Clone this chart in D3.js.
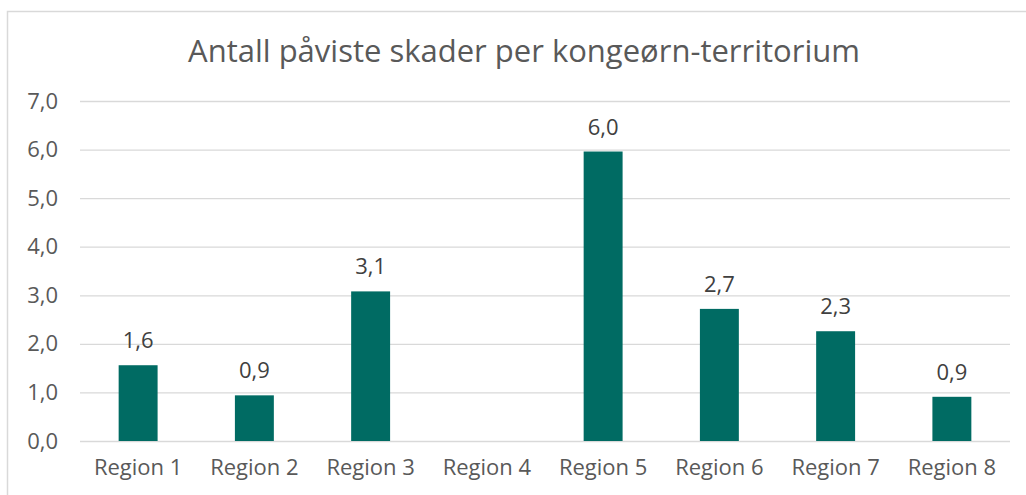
<!DOCTYPE html>
<meta charset="utf-8">
<script src="https://d3js.org/d3.v7.min.js"></script>
<style>
  body { margin: 0; background: #fff; }
  text { font-family: "Open Sans", sans-serif; }
</style>
<div id="chart"></div>
<script>

// data
var regions = ["Region 1", "Region 2", "Region 3", "Region 4", "Region 5", "Region 6", "Region 7", "Region 8"];
var skader = [1.56, 0.94, 3.08, null, 5.96, 2.72, 2.26, 0.91];
var yTicks = [0, 1, 2, 3, 4, 5, 6, 7];
var title = "Antall påviste skader per kongeørn-territorium";

var W = 1026, H = 495;
var margin = {top: 101, right: 16, bottom: 54, left: 80},
    width = W - margin.left - margin.right,
    height = H - margin.top - margin.bottom;

var svg = d3.select("#chart").append("svg")
    .attr("width", W)
    .attr("height", H);

// chart frame (cut off at right and bottom)
svg.append("rect")
    .attr("x", 7.5).attr("y", 11.5)
    .attr("width", W + 20).attr("height", H + 20)
    .attr("fill", "none")
    .attr("stroke", "#d9d9d9")
    .attr("stroke-width", 1.5);

svg.append("text")
    .attr("x", 524)
    .attr("y", 62)
    .attr("text-anchor", "middle")
    .style("font-size", "31px")
    .style("fill", "#595959")
    .text(title);

var g = svg.append("g")
    .attr("transform", "translate(" + margin.left + "," + margin.top + ")");

var x = d3.scaleBand()
    .domain(regions)
    .range([0, width])
    .paddingInner(0.665)
    .paddingOuter(0.3325);

var y = d3.scaleLinear()
    .domain([0, 7])
    .range([height, 0]);

var fmt = function(v) { return d3.format(".1f")(v).replace(".", ","); };

// gridlines + y labels
var yAxis = g.append("g")
    .call(d3.axisLeft(y).tickValues(yTicks).tickSize(-width).tickFormat(fmt).tickPadding(22));
yAxis.select(".domain").remove();
yAxis.selectAll(".tick line").attr("stroke", "#d9d9d9").attr("stroke-width", 1.3);
yAxis.selectAll(".tick text")
    .style("font-size", "22px")
    .style("fill", "#595959")
    .style("font-family", "Open Sans, sans-serif");

// x labels
var xAxis = g.append("g")
    .attr("transform", "translate(0," + height + ")")
    .call(d3.axisBottom(x).tickSize(0).tickPadding(18));
xAxis.select(".domain").remove();
xAxis.selectAll(".tick text")
    .style("font-size", "22px")
    .style("fill", "#595959")
    .style("font-family", "Open Sans, sans-serif");

var data = regions.map(function(r, i) { return {region: r, value: skader[i]}; });

g.selectAll("rect.bar")
  .data(data.filter(function(d) { return d.value != null; }))
  .enter().append("rect")
    .attr("class", "bar")
    .attr("x", function(d) { return x(d.region); })
    .attr("y", function(d) { return y(d.value); })
    .attr("width", x.bandwidth())
    .attr("height", function(d) { return height - y(d.value); })
    .attr("fill", "#006b63");

g.selectAll("text.lbl")
  .data(data.filter(function(d) { return d.value != null; }))
  .enter().append("text")
    .attr("class", "lbl")
    .attr("x", function(d) { return x(d.region) + x.bandwidth() / 2; })
    .attr("y", function(d) { return y(d.value) - 17; })
    .attr("text-anchor", "middle")
    .style("font-size", "22px")
    .style("fill", "#404040")
    .text(function(d) { return fmt(d.value); });

</script>
